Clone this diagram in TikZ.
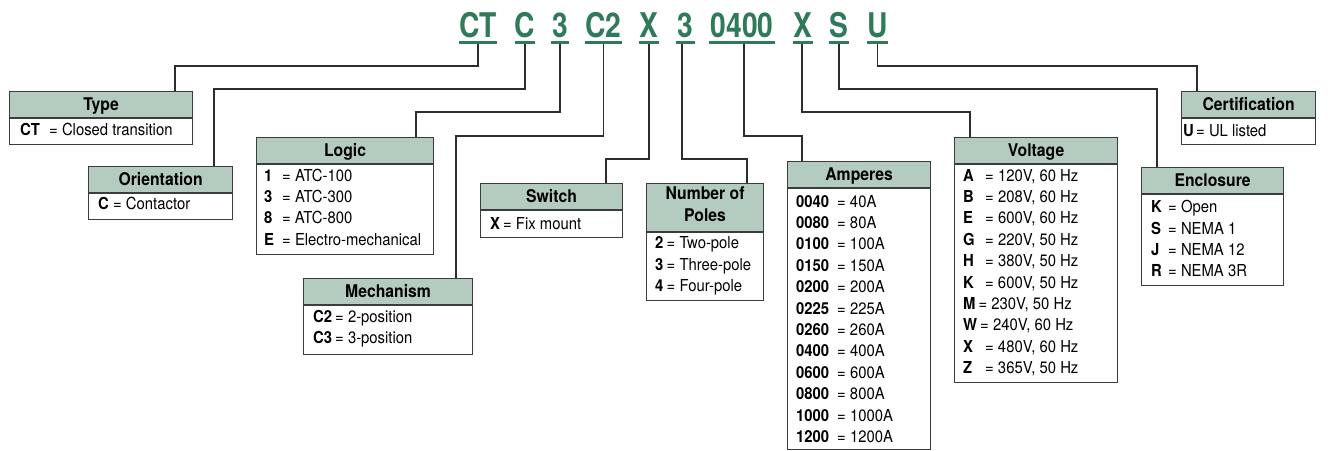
\documentclass[tikz,border=0pt]{standalone}
\usepackage{fontspec}
\setmainfont{TeX Gyre Heros}[FakeStretch=0.9]
\newfontfamily\codefam{TeX Gyre Heros}[FakeStretch=0.83]
\newcommand\bodyfont{\fontsize{16.5}{21.4}\selectfont}
\newcommand\hdrfont{\fontsize{17.5}{22}\selectfont\bfseries}
\newcommand\codefont{\codefam\fontsize{34}{40}\selectfont\bfseries}
% key column: fixed width, or natural width plus a small gap when wider
\newcommand\keyfield[2]{\setbox0=\hbox{\bfseries #2}\ifdim\wd0<#1\relax\hbox to #1{\box0\hfil}\else\box0\kern3pt\fi}
\newcommand\rowsof[1]{\begin{tabular}[t]{@{}l@{}}#1\end{tabular}}

\definecolor{codegreen}{RGB}{47,122,89}
\definecolor{hdrfill}{RGB}{180,204,192}
\definecolor{boxgray}{RGB}{60,60,60}
\definecolor{linegray}{RGB}{45,45,45}

\tikzset{
  conn/.style={draw=linegray, line width=1.5pt},
  hdr/.style={draw=boxgray, line width=1.2pt, fill=hdrfill, anchor=north west,
              inner sep=0pt, font=\hdrfont},
  oneline/.style={text height=12.6pt, text depth=0pt},
  bdy/.style={draw=boxgray, line width=1.2pt, fill=white, anchor=north west, inner sep=0pt},
  rows/.style={anchor=base west, inner sep=0pt, font=\bodyfont},
  code/.style={anchor=base, inner sep=0pt, text depth=6.5pt, font=\codefont, text=codegreen},
  uline/.style={draw=codegreen, line width=2.6pt},
}

\begin{document}
\begin{tikzpicture}[x=1pt, y=-1pt]
\useasboundingbox (0,0) rectangle (1330,450);

% ---- catalogue code ----
\node[code, minimum width=38] (cCT) at (478,37) {CT};
\node[code, minimum width=20] (cC) at (525,37) {C};
\node[code, minimum width=17] (c3a) at (560,37) {3};
\node[code, minimum width=37] (cC2) at (603.5,37) {C2};
\node[code, minimum width=20] (cXa) at (649,37) {X};
\node[code, minimum width=19] (c3b) at (685.5,37) {3};
\node[code, minimum width=66] (c0400) at (742,37) {0400};
\node[code, minimum width=20] (cXb) at (803,37) {X};
\node[code, minimum width=20] (cS) at (839,37) {S};
\node[code, minimum width=21] (cU) at (877.5,37) {U};
\foreach \n in {cCT,cC,c3a,cC2,cXa,c3b,c0400,cXb,cS,cU}
  \draw[uline] ([yshift=1.5pt]\n.south west) -- ([yshift=1.5pt]\n.south east);

% ---- Type ----
\node[hdr, oneline, minimum width=183, minimum height=26] (typeH) at (9,91) {Type};
\node[bdy, minimum width=183, minimum height=26] (typeB) at (typeH.south west) {};
\node[rows] (typeT) at (20,135.5) {\rowsof{\keyfield{29pt}{CT}= Closed transition}};

% ---- Orientation ----
\node[hdr, oneline, minimum width=144, minimum height=26] (oriH) at (88,166) {Orientation};
\node[bdy, minimum width=144, minimum height=26] (oriB) at (oriH.south west) {};
\node[rows] (oriT) at (98,209.5) {\rowsof{\keyfield{15pt}{C}= Contactor}};

% ---- Logic ----
\node[hdr, oneline, minimum width=177, minimum height=26] (logH) at (256,137) {Logic};
\node[bdy, minimum width=177, minimum height=90] (logB) at (logH.south west) {};
\node[rows] (logT) at (264,181) {\rowsof{%
  \keyfield{18pt}{1}= ATC-100\\
  \keyfield{18pt}{3}= ATC-300\\
  \keyfield{18pt}{8}= ATC-800\\
  \keyfield{18pt}{E}= Electro-mechanical}};

% ---- Mechanism ----
\node[hdr, oneline, minimum width=169, minimum height=26] (mecH) at (303,278) {Mechanism};
\node[bdy, minimum width=169, minimum height=49] (mecB) at (mecH.south west) {};
\node[rows] (mecT) at (313,322.5) {\rowsof{%
  \keyfield{22pt}{C2}= 2-position\\
  \keyfield{22pt}{C3}= 3-position}};

% ---- Switch ----
\node[hdr, oneline, minimum width=142, minimum height=26] (swH) at (480,183) {Switch};
\node[bdy, minimum width=142, minimum height=27] (swB) at (swH.south west) {};
\node[rows] (swT) at (490,229) {\rowsof{\keyfield{13pt}{X}= Fix mount}};

% ---- Number of poles ----
\node[hdr, align=center, text depth=6pt,
      minimum width=117, minimum height=48] (polH) at (646,183) {Number of\\Poles};
\node[bdy, minimum width=117, minimum height=68] (polB) at (polH.south west) {};
\node[rows] (polT) at (655,248.7) {\rowsof{%
  \keyfield{11.5pt}{2}= Two-pole\\
  \keyfield{11.5pt}{3}= Three-pole\\
  \keyfield{11.5pt}{4}= Four-pole}};

% ---- Amperes ----
\node[hdr, oneline, minimum width=143, minimum height=26] (ampH) at (787,161) {Amperes};
\node[bdy, minimum width=143, minimum height=261] (ampB) at (ampH.south west) {};
\node[rows] (ampT) at (796,207) {\rowsof{%
  \keyfield{41pt}{0040}= 40A\\
  \keyfield{41pt}{0080}= 80A\\
  \keyfield{41pt}{0100}= 100A\\
  \keyfield{41pt}{0150}= 150A\\
  \keyfield{41pt}{0200}= 200A\\
  \keyfield{41pt}{0225}= 225A\\
  \keyfield{41pt}{0260}= 260A\\
  \keyfield{41pt}{0400}= 400A\\
  \keyfield{41pt}{0600}= 600A\\
  \keyfield{41pt}{0800}= 800A\\
  \keyfield{41pt}{1000}= 1000A\\
  \keyfield{41pt}{1200}= 1200A}};

% ---- Voltage ----
\node[hdr, oneline, minimum width=163, minimum height=26] (volH) at (954,137) {Voltage};
\node[bdy, minimum width=163, minimum height=218] (volB) at (volH.south west) {};
\node[rows] (volT) at (963,181) {\rowsof{%
  \keyfield{22pt}{A}= 120V, 60 Hz\\
  \keyfield{22pt}{B}= 208V, 60 Hz\\
  \keyfield{22pt}{E}= 600V, 60 Hz\\
  \keyfield{22pt}{G}= 220V, 50 Hz\\
  \keyfield{22pt}{H}= 380V, 50 Hz\\
  \keyfield{22pt}{K}= 600V, 50 Hz\\
  \keyfield{10pt}{M}= 230V, 50 Hz\\
  \keyfield{10pt}{W}= 240V, 60 Hz\\
  \keyfield{22pt}{X}= 480V, 60 Hz\\
  \keyfield{22pt}{Z}= 365V, 50 Hz}};

% ---- Enclosure ----
\node[hdr, oneline, minimum width=142, minimum height=26] (encH) at (1141,167) {Enclosure};
\node[bdy, minimum width=142, minimum height=91] (encB) at (encH.south west) {};
\node[rows] (encT) at (1151,212.7) {\rowsof{%
  \keyfield{17pt}{K}= Open\\
  \keyfield{17pt}{S}= NEMA 1\\
  \keyfield{17pt}{J}= NEMA 12\\
  \keyfield{17pt}{R}= NEMA 3R}};

% ---- Certification ----
\node[hdr, oneline, minimum width=134, minimum height=26] (cerH) at (1181,91) {Certification};
\node[bdy, minimum width=134, minimum height=26] (cerB) at (cerH.south west) {};
\node[rows] (cerT) at (1183,136) {\rowsof{\keyfield{13pt}{U}= UL listed}};

% ---- leader lines ----
\coordinate (kCT) at (175,66);
\coordinate (kC) at (214,89);
\coordinate (k3a) at (416,112);
\coordinate (kC2) at (456,136);
\coordinate (kXa) at (606,159);
\coordinate (k3b) at (747,159);
\coordinate (k0400) at (802,136);
\coordinate (kXb) at (970,112);
\coordinate (kS) at (1157,89);
\coordinate (kU) at (1197,66);

\draw[conn] (cCT.south) |- (kCT) -- (kCT |- typeH.north);
\draw[conn] (cC.south) |- (kC) -- (kC |- oriH.north);
\draw[conn] (c3a.south) |- (k3a) -- (k3a |- logH.north);
\draw[conn] (cC2.south) |- (kC2) -- (kC2 |- mecH.north);
\draw[conn] (cXa.south) |- (kXa) -- (kXa |- swH.north);
\draw[conn] ([xshift=-3.5pt]c3b.south) |- (k3b) -- (k3b |- polH.north);
\draw[conn] ([xshift=2pt]c0400.south) |- (k0400) -- (k0400 |- ampH.north);
\draw[conn] ([xshift=-1pt]cXb.south) |- (kXb) -- (kXb |- volH.north);
\draw[conn] (cS.south) |- (kS) -- (kS |- encH.north);
\draw[conn] (cU.south) |- (kU) -- (kU |- cerH.north);
\end{tikzpicture}
\end{document}
